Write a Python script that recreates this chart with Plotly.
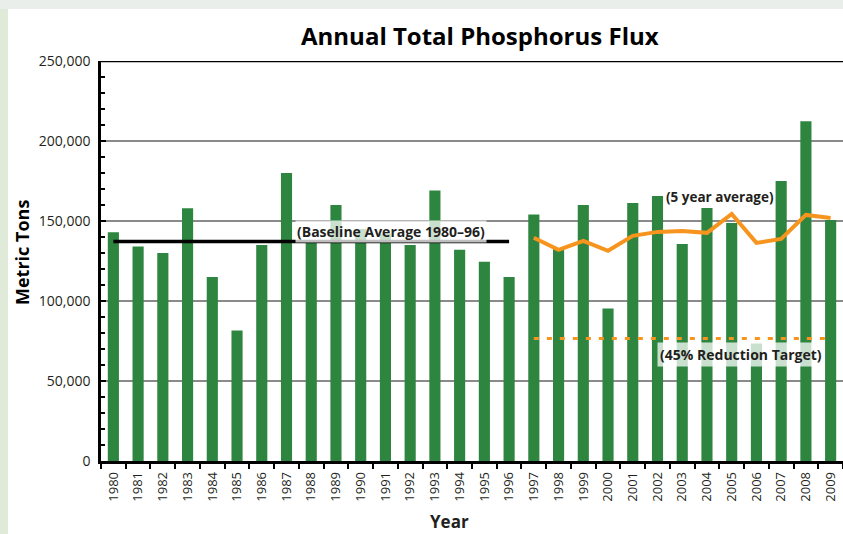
import plotly.graph_objects as go

years = [str(y) for y in range(1980, 2010)]
flux = [143000, 134000, 130000, 158000, 115000, 81500, 135000, 180000, 138000, 160000,
        145000, 142000, 135000, 169000, 132000, 124500, 115000, 154000, 133000, 160000,
        95300, 161300, 165600, 135700, 158100, 148800, 73500, 175000, 212300, 150700]
avg_years = [str(y) for y in range(1997, 2010)]
five_year_avg = [139500, 132000, 137600, 131400, 140700, 143200, 143800, 142600,
                 154400, 136300, 138800, 153800, 151900]
baseline_years = ["1980", "1996"]
baseline_value = 137200
target_years = ["1997", "2009"]
target_value = 76500
y_tickvals = [0, 50000, 100000, 150000, 200000, 250000]
y_ticktext = ["0", "50,000", "100,000", "150,000", "200,000", "250,000"]

FONT = "Open Sans"
TXT = "#231F20"
GREEN = "#2E8540"
ORANGE = "#F7941D"

W, H = 843, 534
ML, MR, MT, MB = 101, 0, 61, 73
PW, PH = W - ML - MR, H - MT - MB


def px_x(p):
    return (p - ML) / PW


def px_y(p):
    return (H - MB - p) / PH


fig = go.Figure()
fig.add_trace(go.Bar(x=years, y=flux, marker=dict(color=GREEN, line=dict(width=0)),
                     hoverinfo="x+y"))
fig.add_trace(go.Scatter(x=baseline_years, y=[baseline_value] * 2, mode="lines",
                         line=dict(color="black", width=3.5)))
fig.add_trace(go.Scatter(x=target_years, y=[target_value] * 2, mode="lines",
                         line=dict(color=ORANGE, width=3, dash="5px,8px")))
fig.add_trace(go.Scatter(x=avg_years, y=five_year_avg, mode="lines",
                         line=dict(color=ORANGE, width=4)))

shapes = [
    # page background strips
    dict(type="rect", xref="paper", yref="paper", x0=px_x(0), x1=px_x(8),
         y0=px_y(H), y1=px_y(0), fillcolor="#DFEBD8", line=dict(width=0), layer="below"),
    dict(type="rect", xref="paper", yref="paper", x0=px_x(0), x1=px_x(W),
         y0=px_y(9), y1=px_y(0), fillcolor="#EAEEEA", line=dict(width=0), layer="below"),
    # top border of plot
    dict(type="line", xref="paper", yref="y", x0=0, x1=1, y0=250000, y1=250000,
         line=dict(color="black", width=2.5)),
]


def ann(text, x, y, size, color=TXT, angle=0, bg=None, pad=1):
    d = dict(text=text, xref="paper", yref="paper", x=px_x(x), y=px_y(y),
             xanchor="center", yanchor="middle", showarrow=False, textangle=angle,
             borderpad=pad, font=dict(family=FONT, size=size, color=color))
    if bg:
        d["bgcolor"] = bg
    return d


annotations = [
    ann("<b>Annual Total Phosphorus Flux</b>", 480, 35, 24, "black"),
    ann("<b>Metric Tons</b>", 22, 253, 18, "black", angle=-90),
    ann("<b>Year</b>", 449, 521, 17),
    ann("<b>(Baseline Average 1980–96)</b>", 391, 231, 14, bg="rgba(255,255,255,0.75)"),
    ann("<b>(5 year average)</b>", 720, 197, 13.5),
    ann("<b>(45% Reduction Target)</b>", 741, 354, 14, bg="rgba(255,255,255,0.75)", pad=2),
]

fig.update_layout(
    width=W, height=H,
    margin=dict(l=ML, r=MR, t=MT, b=MB, pad=0),
    paper_bgcolor="white", plot_bgcolor="white",
    showlegend=False, bargap=0.55,
    font=dict(family=FONT, color=TXT),
    shapes=shapes, annotations=annotations,
    xaxis=dict(type="category", categoryorder="array", categoryarray=years,
               tickangle=-90, tickson="boundaries", ticks="outside", ticklen=5,
               tickwidth=2, tickcolor="black", showline=True, linecolor="black",
               linewidth=2.5, showgrid=False, tickfont=dict(family=FONT, size=13, color=TXT),
               ticklabelstandoff=3),
    yaxis=dict(range=[0, 250000], tickvals=y_tickvals, ticktext=y_ticktext,
               ticks="inside", ticklen=5, tickwidth=2, tickcolor="black",
               showline=True, linecolor="black", linewidth=2.5,
               showgrid=True, gridcolor="#8A8A8A", gridwidth=1.5, zeroline=False,
               minor=dict(dtick=10000, ticks="inside", ticklen=4, tickwidth=1.5,
                          tickcolor="black", showgrid=False),
               tickfont=dict(family=FONT, size=14, color=TXT), ticklabelstandoff=5),
)

fig.write_html("out.html", config={"displayModeBar": False},
               post_script="document.body.style.margin='0px';")
